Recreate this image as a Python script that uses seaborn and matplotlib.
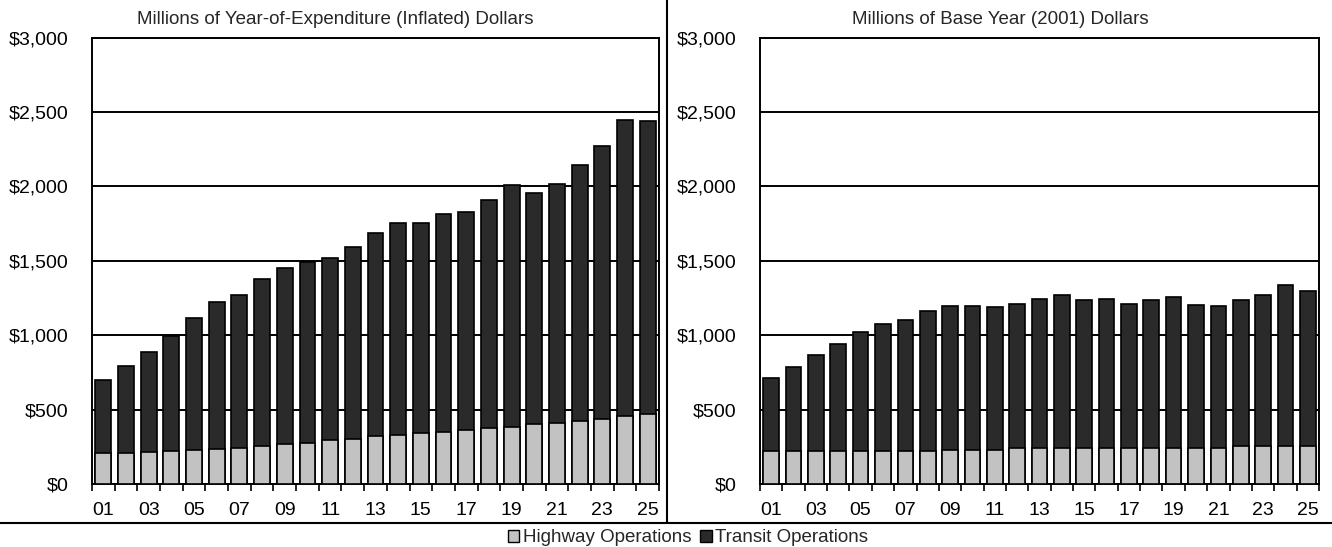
import numpy as np
import pandas as pd
import matplotlib
matplotlib.use("Agg")
import matplotlib.pyplot as plt
import seaborn as sns
from matplotlib.patches import Patch
from matplotlib.lines import Line2D
from matplotlib.ticker import FuncFormatter

# ---------------- data ----------------
years = [f"{i:02d}" for i in range(1, 26)]
tick_labels = years[::2]

yoe_highway = [208, 208, 214, 220, 231, 233, 243, 254, 266, 278, 296, 305, 320,
               331, 340, 349, 362, 378, 384, 400, 411, 422, 438, 456, 471]
yoe_transit = [493, 587, 674, 775, 881, 989, 1025, 1124, 1182, 1212, 1221, 1287, 1365,
               1424, 1415, 1467, 1465, 1533, 1625, 1558, 1605, 1718, 1835, 1992, 1965]

base_highway = [220, 220, 220, 220, 220, 220, 220, 220, 230, 230, 230, 240, 240,
                240, 240, 240, 240, 240, 240, 240, 240, 255, 255, 255, 255]
base_transit = [494, 566, 646, 718, 800, 858, 885, 943, 968, 968, 957, 970, 1005,
                1028, 998, 1005, 970, 998, 1017, 963, 958, 983, 1018, 1083, 1041]

titles = ["Millions of Year-of-Expenditure (Inflated) Dollars",
          "Millions of Base Year (2001) Dollars"]
legend_labels = ["Highway Operations", "Transit Operations"]
y_ticks = [0, 500, 1000, 1500, 2000, 2500, 3000]

HW_C = "#c2c2c2"
TR_C = "#2a2a2a"

# ---------------- style ----------------
sns.set_theme(style="white")
plt.rcParams["font.family"] = ["Liberation Sans", "DejaVu Sans"]

W, H = 1332, 547
fig = plt.figure(figsize=(W / 100, H / 100), dpi=100)

ax_bottom = 63 / H
ax_height = 446.5 / H
ax1 = fig.add_axes([92 / W, ax_bottom, 567 / W, ax_height])
ax2 = fig.add_axes([760 / W, ax_bottom, 559 / W, ax_height])


def draw(ax, hw, tr):
    df = pd.DataFrame({"year": years, "highway": hw, "transit": tr})
    df["total"] = df["highway"] + df["transit"]
    sns.barplot(data=df, x="year", y="total", color=TR_C, saturation=1,
                edgecolor="black", linewidth=1.2, width=0.7, ax=ax, zorder=3)
    sns.barplot(data=df, x="year", y="highway", color=HW_C, saturation=1,
                edgecolor="black", linewidth=1.2, width=0.7, ax=ax, zorder=4)
    ax.set_xlim(-0.5, 24.5)
    ax.set_ylim(0, 3000)
    ax.set_xlabel("")
    ax.set_ylabel("")
    ax.set_yticks(y_ticks)
    ax.yaxis.set_major_formatter(FuncFormatter(lambda v, p: f"${v:,.0f}"))
    ax.set_xticks(list(range(0, 25, 2)))
    ax.set_xticklabels(tick_labels)
    ax.set_xticks(np.arange(-0.5, 25, 1), minor=True)
    ax.tick_params(axis="x", which="major", length=0, pad=13, labelsize=14, colors="black")
    ax.tick_params(axis="x", which="minor", length=5, width=1.2, direction="out",
                   bottom=True, color="black")
    ax.tick_params(axis="y", which="major", length=0, pad=17, labelsize=14, colors="black")
    ax.yaxis.grid(True, color="black", linewidth=1.4)
    ax.xaxis.grid(False)
    ax.set_axisbelow(True)
    for s in ax.spines.values():
        s.set_visible(True)
        s.set_color("black")
        s.set_linewidth(1.4)


draw(ax1, yoe_highway, yoe_transit)
draw(ax2, base_highway, base_transit)

fig.text(335 / W, 1 - 20 / H, titles[0], ha="center", va="center", fontsize=13.5)
fig.text(1000 / W, 1 - 20 / H, titles[1], ha="center", va="center", fontsize=13.5)

# separator lines
fig.add_artist(Line2D([0, 1], [1 - 523 / H, 1 - 523 / H], transform=fig.transFigure,
                      color="black", linewidth=1.5))
fig.add_artist(Line2D([667 / W, 667 / W], [1 - 523 / H, 1], transform=fig.transFigure,
                      color="black", linewidth=1.5))

handles = [Patch(facecolor=HW_C, edgecolor="black", linewidth=1.0),
           Patch(facecolor=TR_C, edgecolor="black", linewidth=1.0)]
fig.legend(handles, legend_labels, loc="center", bbox_to_anchor=(688 / W, 9 / H),
           ncol=2, frameon=False, fontsize=13.5, handlelength=0.6, handleheight=0.6,
           handletextpad=0.2, columnspacing=0.5, borderaxespad=0, borderpad=0)

fig.savefig("out.png", dpi=100)
